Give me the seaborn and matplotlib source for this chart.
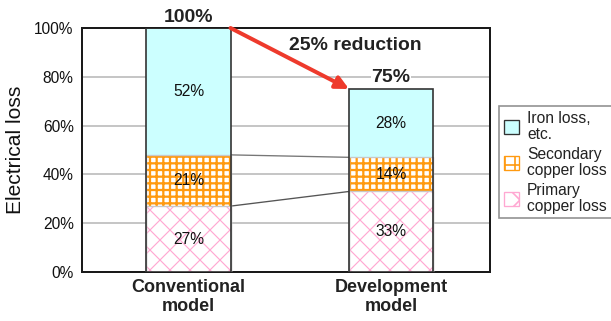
import matplotlib
matplotlib.use("Agg")
import matplotlib.pyplot as plt
import seaborn as sns
import pandas as pd
import numpy as np
from matplotlib.patches import Patch

# ---- data ----
categories = ["Conventional\nmodel", "Development\nmodel"]
primary_copper = [27, 33]
secondary_copper = [21, 14]
iron_loss = [52, 28]
legend_labels = ["Iron loss,\netc.", "Secondary\ncopper loss", "Primary\ncopper loss"]
yticks = [0, 20, 40, 60, 80, 100]

sns.set_style("white")
plt.rcParams['font.family'] = ['Liberation Sans', 'DejaVu Sans']

DPI = 120
fig = plt.figure(figsize=(611 / DPI, 321 / DPI), dpi=DPI)
ax = fig.add_axes([82 / 611, (321 - 272) / 321, (490 - 82) / 611, (272 - 28) / 321])

cum1 = np.array(primary_copper)
cum2 = cum1 + np.array(secondary_copper)
cum3 = cum2 + np.array(iron_loss)
df = pd.DataFrame({"model": categories, "c1": cum1, "c2": cum2, "c3": cum3})

W = 0.415
CYAN = "#ccffff"
ORANGE = "#ff9a10"
PINK = "#ffa8d2"


def layer(col, face, edge, hatch, hlw, z):
    n0 = len(ax.patches)
    with plt.rc_context({'hatch.linewidth': hlw}):
        sns.barplot(data=df, x="model", y=col, width=W, color=face, ax=ax,
                    zorder=z, errorbar=None)
        for p in ax.patches[n0:]:
            p.set_facecolor(face)
            p.set_edgecolor(edge)
            p.set_linewidth(0)
            p.set_zorder(z)
            if hatch:
                p.set_hatch(hatch)
                if hasattr(p, "set_hatch_linewidth"):
                    p.set_hatch_linewidth(hlw)


plt.rcParams['hatch.linewidth'] = 1.0
layer("c3", CYAN, CYAN, None, 1, 2)
layer("c2", "white", ORANGE, "+++", 1.35, 3)
layer("c1", "white", PINK, "xx", 0.7, 4)

# segment separators and outline
for col in ["c1", "c2"]:
    ax.bar(range(len(categories)), df[col], width=W, fill=False,
           edgecolor="#c8c8c8", linewidth=0.8, zorder=5)
ax.bar(range(len(categories)), df["c3"], width=W, fill=False,
       edgecolor="#333333", linewidth=1.0, zorder=6)

# connecting lines between bars
for col, c in [("c1", "#555555"), ("c2", "#777777")]:
    ax.plot([0 + W / 2, 1 - W / 2], df[col].values, color=c, lw=0.8, zorder=1.5)

# inner labels
for i in range(len(categories)):
    for lo, v in [(0, primary_copper[i]), (cum1[i], secondary_copper[i]), (cum2[i], iron_loss[i])]:
        ax.text(i, lo + v / 2, f"{v}%", ha="center", va="center", fontsize=9.4,
                color="#111111", zorder=7)

# totals
for i, t in enumerate(cum3):
    ax.annotate(f"{t}%", (i, t), xytext=(0, 1.5), textcoords="offset points",
                ha="center", va="bottom", fontsize=11.6, fontweight="bold",
                color="#222222", zorder=7, annotation_clip=False,
                bbox=dict(fc="white", ec="none", pad=0.5))

# arrow
ax.annotate("", xy=(1 - W / 2, cum3[1]), xytext=(0 + W / 2, cum3[0]),
            arrowprops=dict(arrowstyle="-|>", color="#ee3a2c", lw=2.4,
                            mutation_scale=16, shrinkA=0, shrinkB=0),
            zorder=8, annotation_clip=False)
ax.text(0.669, 0.93, f"{cum3[0] - cum3[1]}% reduction", transform=ax.transAxes,
        ha="center", va="center", fontsize=11.6, fontweight="bold", color="#222222",
        zorder=8)

# axes styling
ax.set_ylim(0, 100)
ax.set_xlim(-0.526, 1.489)
ax.set_yticks(yticks)
ax.set_yticklabels([f"{t}%" for t in yticks], fontsize=9.3, color="#111111")
ax.tick_params(axis="y", length=0, pad=5)
ax.set_xticks(range(len(categories)))
ax.set_xticklabels(categories, fontsize=10.8, fontweight="bold", color="#222222",
                   linespacing=1.1)
ax.tick_params(axis="x", which="major", length=0, pad=4.5)
ax.set_xticks([0.5], minor=True)
ax.tick_params(axis="x", which="minor", direction="in", length=2.5, width=1.2,
               color="#222222")
ax.set_xlabel("")
ax.set_ylabel("Electrical loss", fontsize=12.6, color="#111111", va="center")
ax.yaxis.set_label_coords(-0.164, 0.5)
for s in ax.spines.values():
    s.set_visible(True)
    s.set_color("#1a1a1a")
    s.set_linewidth(1.2)
for y in yticks[1:-1]:
    ax.axhline(y, color="#b4b4b4", lw=0.9, zorder=1)

# legend
handles = [
    Patch(facecolor=CYAN, edgecolor="#333333", linewidth=0.8),
    Patch(facecolor="white", edgecolor=ORANGE, hatch="++", linewidth=0.8),
    Patch(facecolor="white", edgecolor=PINK, hatch="x", linewidth=0.8),
]
leg = fig.legend(handles, legend_labels, loc="upper left",
                 bbox_to_anchor=(499 / 611, 1 - 106 / 321), bbox_transform=fig.transFigure,
                 fontsize=9.4, frameon=True, fancybox=False, edgecolor="#777777",
                 handlelength=1.0, handleheight=1.0, handletextpad=0.5,
                 borderpad=0.3, labelspacing=0.3, borderaxespad=0)
leg.get_frame().set_linewidth(1.0)
for t in leg.get_texts():
    t.set_linespacing(1.1)
    t.set_color("#222222")

fig.savefig("out.png", dpi=DPI)
